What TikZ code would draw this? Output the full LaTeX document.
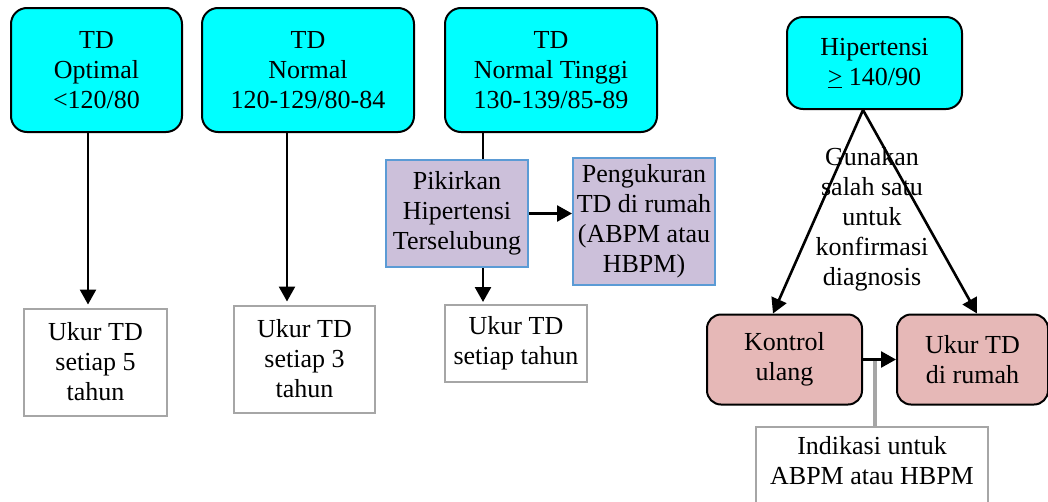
\documentclass[tikz,border=0pt]{standalone}
\usepackage{fontspec}
\setmainfont{Liberation Serif}
\usetikzlibrary{arrows.meta}
\definecolor{cyanc}{HTML}{00FFFF}
\definecolor{lav}{HTML}{CCC0DA}
\definecolor{lavb}{HTML}{5B9BD5}
\definecolor{pinkc}{HTML}{E6B8B7}
\definecolor{grayb}{HTML}{A6A6A6}
\begin{document}
\begin{tikzpicture}[x=1pt,y=-1pt,
  every node/.style={font=\fontsize{26}{30}\selectfont, align=center, inner sep=0pt},
  topbox/.style={draw=black, line width=2pt, fill=cyanc, rounded corners=16pt},
  lowbox/.style={draw=grayb, line width=2pt, fill=white},
  purbox/.style={draw=lavb, line width=2pt, fill=lav},
  pinkbox/.style={draw=black, line width=2pt, fill=pinkc, rounded corners=14pt},
  conn/.style={line width=2.6pt, -{Triangle[length=15pt,width=16pt]}},
  plain/.style={line width=2.6pt},
  grayconn/.style={draw=grayb, line width=3.4pt}
]
\clip (0,0) rectangle (1048,501);
\fill[white] (0,0) rectangle (1048,501);

% top boxes
\node[topbox, minimum width=171pt, minimum height=124pt] (b1) at (96.5,70) {TD\\Optimal\\<120/80};
\node[topbox, minimum width=212pt, minimum height=124pt] (b2) at (308,70) {TD\\Normal\\120-129/80-84};
\node[topbox, minimum width=212pt, minimum height=124pt] (b3) at (551,70) {TD\\Normal Tinggi\\130-139/85-89};
\node[topbox, minimum width=175pt, minimum height=92pt] (b4) at (874.5,63) {Hipertensi\\\underline{>} 140/90};

% lower boxes
\node[lowbox, minimum width=143pt, minimum height=107pt] (l1) at (95.5,362) {Ukur TD\\setiap 5\\tahun};
\node[lowbox, minimum width=141pt, minimum height=107pt] (l2) at (304.5,359) {Ukur TD\\setiap 3\\tahun};
\node[purbox, minimum width=142pt, minimum height=107pt] (pik) at (457,213.5) {Pikirkan\\Hipertensi\\Terselubung};
\node[purbox, minimum width=142pt, minimum height=127pt] (peng) at (644,221.5) {Pengukuran\\TD di rumah\\(ABPM atau\\HBPM)};
\node[lowbox, minimum width=142pt, minimum height=77pt] (l3) at (516,343.5) {Ukur TD\\setiap tahun};
\node[pinkbox, minimum width=155pt, minimum height=90pt] (kon) at (784.5,359.5) {Kontrol\\ulang};
\node[pinkbox, minimum width=151pt, minimum height=90pt] (ukr) at (972.5,359.5) {Ukur TD\\di rumah};
\node[lowbox, minimum width=232pt, minimum height=90pt, anchor=north] (indbox) at (872,426) {};
\node (indtxt) at (872,461) {Indikasi untuk\\ABPM atau HBPM};

% helper coordinates
\coordinate (x1) at (88,0);
\coordinate (x2) at (287,0);
\coordinate (x3) at (483,0);
\coordinate (ax) at (863,0);
\coordinate (tl) at (773,0);
\coordinate (tr) at (977,0);
\coordinate (gx) at (875,0);

% connectors
\draw[conn, shorten >=3pt] (b1.south -| x1) -- (l1.north -| x1);
\draw[conn, shorten >=3pt] (b2.south -| x2) -- (l2.north -| x2);
\draw[plain] (b3.south -| x3) -- (pik.north -| x3);
\draw[conn] (pik.east) -- (peng.west |- pik.east);
\draw[conn, shorten >=2pt] (pik.south -| x3) -- (l3.north -| x3);
\draw[conn] (b4.south -| ax) -- (kon.north -| tl);
\draw[conn] (b4.south -| ax) -- (ukr.north -| tr);
\draw[grayconn] (kon.east -| gx) -- (indbox.north -| gx);
\draw[conn] (kon.east) -- (ukr.west);

\node (gun) at (872,219) {Gunakan\\salah satu\\untuk\\konfirmasi\\diagnosis};
\end{tikzpicture}
\end{document}
